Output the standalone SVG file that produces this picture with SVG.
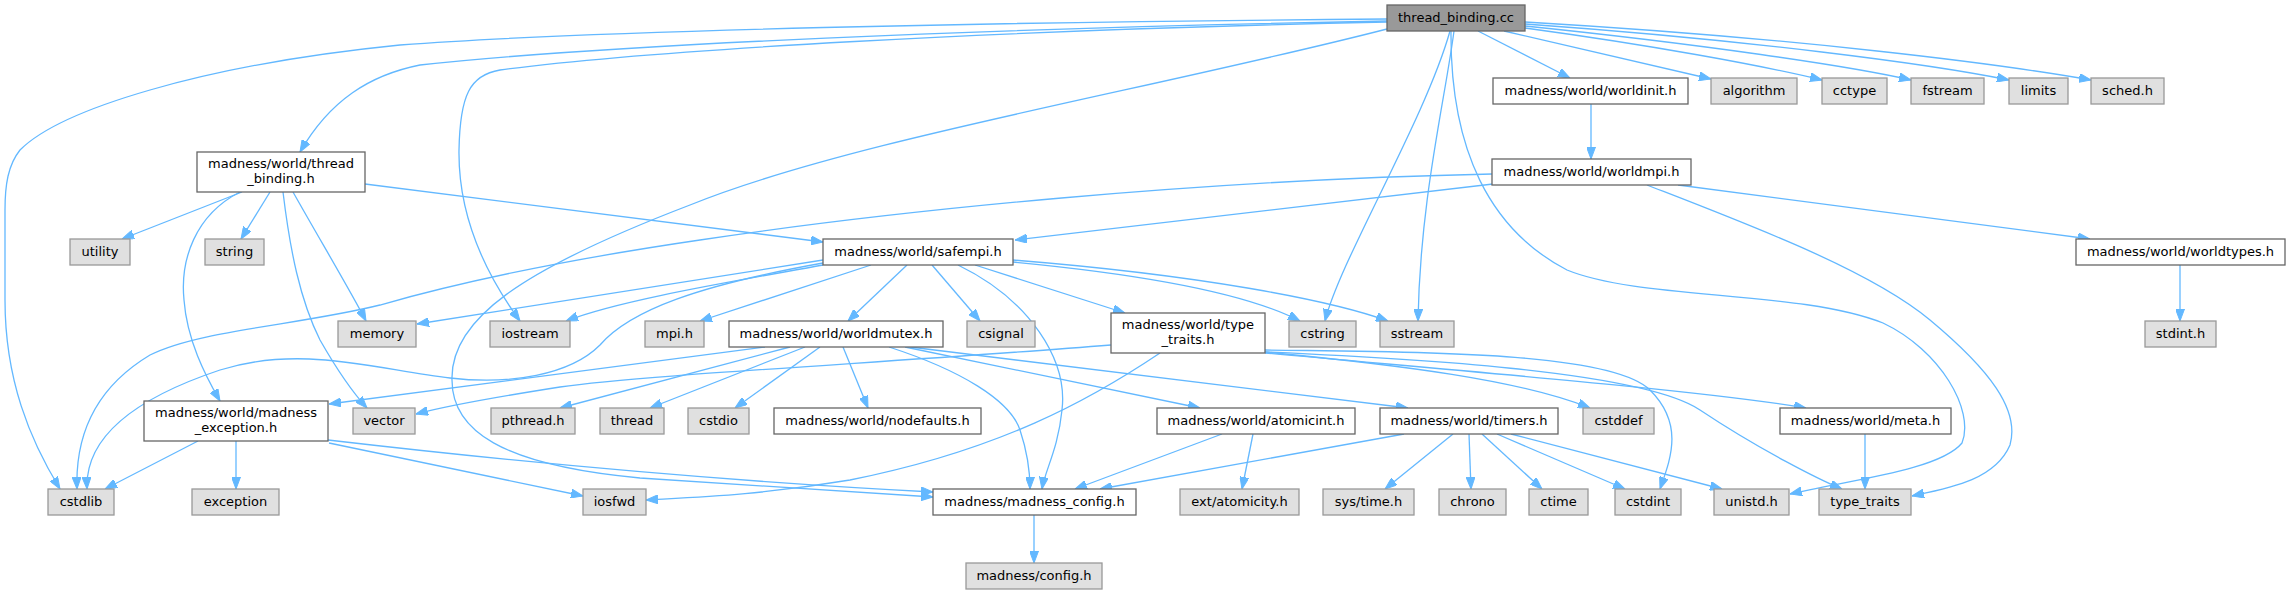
<svg xmlns="http://www.w3.org/2000/svg" width="2291" height="593" viewBox="0 0 2291 593">
<defs>
<marker id="a" markerWidth="12" markerHeight="9" refX="12" refY="4.5" orient="auto" markerUnits="userSpaceOnUse"><path d="M0,0 L12,4.5 L0,9 z" fill="#63b8ff" stroke="#63b8ff" stroke-width="1"/></marker>
<style>
rect{stroke-width:1.3}
.n rect{fill:#ffffff;stroke:#666666}
.g rect{fill:#e0e0e0;stroke:#999999}
.r rect{fill:#999999;stroke:#666666}
text{font-family:"DejaVu Sans","Liberation Sans",sans-serif;font-size:13px;text-anchor:middle;fill:#000000}
#edges path{fill:none;stroke:#63b8ff;stroke-width:1.3;marker-end:url(#a)}
</style>
</defs>
<rect width="2291" height="593" fill="#ffffff"/>
<g id="edges">
<!-- thread_binding.cc -->
<path d="M1478,31 L1570,78"/>
<path d="M1504,31 L1711,79"/>
<path d="M1525,28 C1650,45 1760,65 1822,80"/>
<path d="M1525,26 C1700,44 1850,66 1911,80"/>
<path d="M1525,24 C1750,40 1930,64 2009,80"/>
<path d="M1525,22 C1800,38 2000,64 2091,80"/>
<path d="M1450,31 C1425,120 1340,260 1325,321"/>
<path d="M1454,31 C1445,100 1420,200 1418,321"/>
<path d="M1451,31 C1450,150 1490,230 1567,270 C1640,300 1800,290 1883,323 C1940,350 1975,410 1962,443 C1940,470 1850,480 1790,494"/>
<path d="M1387,19 C1000,22 600,30 400,45 C200,65 60,110 20,150 C8,165 5,185 5,210 L5,300 C5,380 30,440 60,489"/>
<path d="M1387,21 C1000,28 600,45 420,65 C370,75 330,100 300,152"/>
<path d="M1387,22 C1000,30 650,50 500,70 C470,75 460,95 459,150 C458,220 490,280 520,321"/>
<path d="M1387,29 C1150,90 850,140 690,205 C520,270 450,320 452,380 C452,430 500,465 640,478 L933,497"/>
<!-- thread_binding.h -->
<path d="M242,192 L122,239"/>
<path d="M270,192 L241,239"/>
<path d="M240,192 C195,215 180,260 184,300 C187,340 205,375 220,401"/>
<path d="M283,192 C290,250 300,300 320,340 C340,375 355,395 367,408"/>
<path d="M293,192 C320,240 350,290 366,321"/>
<path d="M365,184 L823,242"/>
<!-- worldinit / worldmpi / worldtypes -->
<path d="M1591,104 L1591,159"/>
<path d="M1493,184 L1015,240"/>
<path d="M1492,174 C1200,180 900,210 700,240 C550,262 450,285 380,305 C300,325 200,330 150,355 C100,385 75,430 77,489"/>
<path d="M1678,185 L2090,239"/>
<path d="M1647,185 C1750,225 1870,270 1930,320 C1990,370 2020,410 2010,445 C1995,480 1950,488 1912,496"/>
<path d="M2180,265 L2180,321"/>
<!-- safempi.h -->
<path d="M823,260 L417,324"/>
<path d="M823,265 C730,282 620,300 566,321"/>
<path d="M823,263 C700,285 630,310 600,345 C570,375 510,385 450,378 C370,368 300,345 220,370 C130,400 85,440 87,489"/>
<path d="M871,265 L700,321"/>
<path d="M907,265 L848,321"/>
<path d="M932,265 L980,321"/>
<path d="M958,265 C1030,300 1068,360 1062,410 C1058,450 1045,470 1042,489"/>
<path d="M975,265 L1125,313"/>
<path d="M1013,262 C1150,275 1250,295 1300,321"/>
<path d="M1013,260 C1200,275 1330,300 1388,321"/>
<!-- worldmutex.h -->
<path d="M765,347 L329,404"/>
<path d="M790,347 L560,408"/>
<path d="M805,347 L650,408"/>
<path d="M820,347 L735,408"/>
<path d="M843,347 L868,408"/>
<path d="M889,347 C960,370 1010,400 1020,430 C1030,460 1030,480 1030,489"/>
<path d="M905,347 L1200,408"/>
<path d="M910,347 L1408,408"/>
<!-- type_traits.h -->
<path d="M1160,353 C1090,400 1000,450 850,480 C760,495 700,497 646,500"/>
<path d="M1111,345 C900,362 640,375 560,387 C490,398 450,405 416,414"/>
<path d="M1265,350 C1400,352 1610,350 1650,390 C1685,425 1670,460 1660,489"/>
<path d="M1265,352 C1400,358 1640,370 1700,410 C1760,450 1820,480 1842,489"/>
<path d="M1265,352 C1400,365 1520,380 1590,408"/>
<path d="M1265,353 C1450,370 1700,390 1806,408"/>
<!-- madness_exception.h -->
<path d="M236,441 L236,489"/>
<path d="M198,441 L105,489"/>
<path d="M329,443 L583,496"/>
<path d="M328,440 C500,460 700,480 933,492"/>
<!-- atomicint / timers / meta / config -->
<path d="M1222,434 L1075,489"/>
<path d="M1253,434 L1242,489"/>
<path d="M1404,434 L1100,489"/>
<path d="M1453,434 L1385,489"/>
<path d="M1469,434 L1471,489"/>
<path d="M1482,434 L1542,489"/>
<path d="M1497,434 L1625,489"/>
<path d="M1511,434 L1722,489"/>
<path d="M1865,434 L1865,489"/>
<path d="M1034,515 L1034,563"/>
</g>
<g id="n_tb" class="r"><rect x="1387" y="5" width="138" height="26"/><text x="1456" y="21.5">thread_binding.cc</text></g>
<g id="n_tbh" class="n"><rect x="197" y="152" width="168" height="40"/><text x="281" y="167.5">madness/world/thread</text><text x="281" y="182.5">_binding.h</text></g>
<g id="n_utility" class="g"><rect x="70" y="239" width="60" height="26"/><text x="100" y="255.5">utility</text></g>
<g id="n_string" class="g"><rect x="205" y="239" width="59" height="26"/><text x="234.5" y="255.5">string</text></g>
<g id="n_safempi" class="n"><rect x="823" y="239" width="190" height="26"/><text x="918" y="255.5">madness/world/safempi.h</text></g>
<g id="n_worldinit" class="n"><rect x="1493" y="78" width="195" height="26"/><text x="1590.5" y="94.5">madness/world/worldinit.h</text></g>
<g id="n_algorithm" class="g"><rect x="1711" y="78" width="86" height="26"/><text x="1754" y="94.5">algorithm</text></g>
<g id="n_cctype" class="g"><rect x="1822" y="78" width="65" height="26"/><text x="1854.5" y="94.5">cctype</text></g>
<g id="n_fstream" class="g"><rect x="1911" y="78" width="73" height="26"/><text x="1947.5" y="94.5">fstream</text></g>
<g id="n_limits" class="g"><rect x="2009" y="78" width="59" height="26"/><text x="2038.5" y="94.5">limits</text></g>
<g id="n_sched" class="g"><rect x="2091" y="78" width="73" height="26"/><text x="2127.5" y="94.5">sched.h</text></g>
<g id="n_worldmpi" class="n"><rect x="1492" y="159" width="199" height="26"/><text x="1591.5" y="175.5">madness/world/worldmpi.h</text></g>
<g id="n_worldtypes" class="n"><rect x="2076" y="239" width="209" height="26"/><text x="2180.5" y="255.5">madness/world/worldtypes.h</text></g>
<g id="n_memory" class="g"><rect x="338" y="321" width="78" height="26"/><text x="377" y="337.5">memory</text></g>
<g id="n_iostream" class="g"><rect x="490" y="321" width="80" height="26"/><text x="530" y="337.5">iostream</text></g>
<g id="n_mpi" class="g"><rect x="645" y="321" width="59" height="26"/><text x="674.5" y="337.5">mpi.h</text></g>
<g id="n_worldmutex" class="n"><rect x="729" y="321" width="214" height="26"/><text x="836" y="337.5">madness/world/worldmutex.h</text></g>
<g id="n_csignal" class="g"><rect x="967" y="321" width="68" height="26"/><text x="1001" y="337.5">csignal</text></g>
<g id="n_typetraitsh" class="n"><rect x="1111" y="313" width="154" height="40"/><text x="1188" y="328.5">madness/world/type</text><text x="1188" y="343.5">_traits.h</text></g>
<g id="n_cstring" class="g"><rect x="1289" y="321" width="67" height="26"/><text x="1322.5" y="337.5">cstring</text></g>
<g id="n_sstream" class="g"><rect x="1380" y="321" width="74" height="26"/><text x="1417" y="337.5">sstream</text></g>
<g id="n_stdint" class="g"><rect x="2145" y="321" width="71" height="26"/><text x="2180.5" y="337.5">stdint.h</text></g>
<g id="n_mexc" class="n"><rect x="144" y="401" width="184" height="40"/><text x="236" y="416.5">madness/world/madness</text><text x="236" y="431.5">_exception.h</text></g>
<g id="n_vector" class="g"><rect x="353" y="408" width="62" height="26"/><text x="384" y="424.5">vector</text></g>
<g id="n_pthread" class="g"><rect x="491" y="408" width="84" height="26"/><text x="533" y="424.5">pthread.h</text></g>
<g id="n_thread" class="g"><rect x="600" y="408" width="64" height="26"/><text x="632" y="424.5">thread</text></g>
<g id="n_cstdio" class="g"><rect x="688" y="408" width="61" height="26"/><text x="718.5" y="424.5">cstdio</text></g>
<g id="n_nodefaults" class="n"><rect x="774" y="408" width="207" height="26"/><text x="877.5" y="424.5">madness/world/nodefaults.h</text></g>
<g id="n_atomicint" class="n"><rect x="1157" y="408" width="198" height="26"/><text x="1256" y="424.5">madness/world/atomicint.h</text></g>
<g id="n_timers" class="n"><rect x="1380" y="408" width="178" height="26"/><text x="1469" y="424.5">madness/world/timers.h</text></g>
<g id="n_cstddef" class="g"><rect x="1583" y="408" width="71" height="26"/><text x="1618.5" y="424.5">cstddef</text></g>
<g id="n_meta" class="n"><rect x="1780" y="408" width="171" height="26"/><text x="1865.5" y="424.5">madness/world/meta.h</text></g>
<g id="n_cstdlib" class="g"><rect x="48" y="489" width="66" height="26"/><text x="81" y="505.5">cstdlib</text></g>
<g id="n_exception" class="g"><rect x="192" y="489" width="87" height="26"/><text x="235.5" y="505.5">exception</text></g>
<g id="n_iosfwd" class="g"><rect x="583" y="489" width="63" height="26"/><text x="614.5" y="505.5">iosfwd</text></g>
<g id="n_mconfig" class="n"><rect x="933" y="489" width="203" height="26"/><text x="1034.5" y="505.5">madness/madness_config.h</text></g>
<g id="n_atomicity" class="g"><rect x="1180" y="489" width="119" height="26"/><text x="1239.5" y="505.5">ext/atomicity.h</text></g>
<g id="n_systime" class="g"><rect x="1323" y="489" width="91" height="26"/><text x="1368.5" y="505.5">sys/time.h</text></g>
<g id="n_chrono" class="g"><rect x="1439" y="489" width="67" height="26"/><text x="1472.5" y="505.5">chrono</text></g>
<g id="n_ctime" class="g"><rect x="1529" y="489" width="59" height="26"/><text x="1558.5" y="505.5">ctime</text></g>
<g id="n_cstdint" class="g"><rect x="1615" y="489" width="66" height="26"/><text x="1648" y="505.5">cstdint</text></g>
<g id="n_unistd" class="g"><rect x="1714" y="489" width="75" height="26"/><text x="1751.5" y="505.5">unistd.h</text></g>
<g id="n_type_traits" class="g"><rect x="1819" y="489" width="92" height="26"/><text x="1865" y="505.5">type_traits</text></g>
<g id="n_config" class="g"><rect x="966" y="563" width="136" height="26"/><text x="1034" y="579.5">madness/config.h</text></g>
</svg>
